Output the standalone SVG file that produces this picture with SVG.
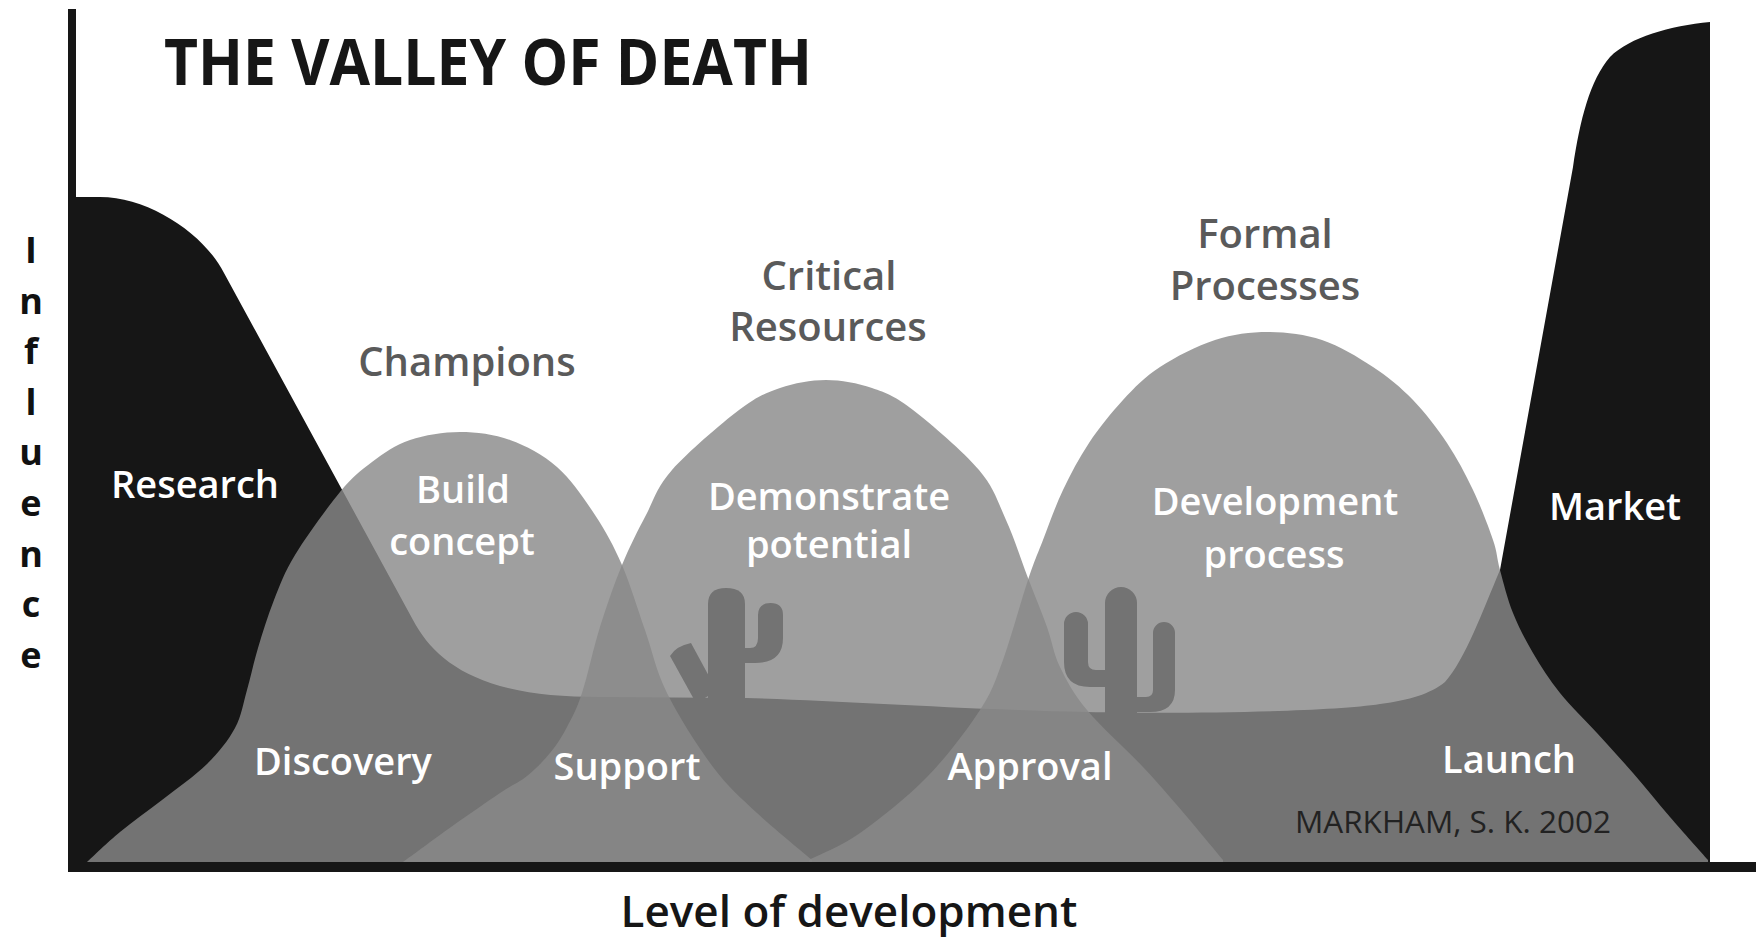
<svg xmlns="http://www.w3.org/2000/svg" width="1756" height="940" viewBox="0 0 1756 940">
<style>
text{font-family:"Open Sans","Noto Sans","Liberation Sans",sans-serif}
.blk{fill:#161616}
.hump{fill:#898989;fill-opacity:0.81}
.w{fill:#ffffff;font-size:38px;font-weight:600;text-anchor:middle}
.g{fill:#5a5a5a;font-size:40px;font-weight:600;text-anchor:middle}
.ax{fill:#111111;font-size:36px;font-weight:700;text-anchor:middle}
</style>
<rect width="1756" height="940" fill="#ffffff"/>
<g id="terrain" class="blk">
<path d="M 68,197 L 100,197 C 150,197 205,235 224,273 L 413,620 C 428,648 452,672 500,686 C 530,694 560,697 600,697 L 746,698 C 850,701 950,709 1087,712 C 1180,714 1330,712 1380,704 C 1410,700 1430,694 1445,682 C 1465,660 1483,610 1500,570 L 1573,167 C 1580,120 1590,80 1610,57 C 1630,37 1670,26 1710,22 L 1710,866 L 68,866 Z"/>
<g id="cactus-1">
<path d="M 708,700 L 708,604 Q 708,588 726,588 Q 745,588 745,604 L 745,700 Z"/>
<path d="M 740,648 L 750,648 Q 758,648 758,638 L 758,615 Q 758,603 770.5,603 Q 783,603 783,615 L 783,638 Q 783,663 755,663 L 740,663 Z"/>
<path d="M 670,656 Q 676,646 691,643 L 717,691 L 696,703 Z"/>
</g>
<g id="cactus-2">
<path d="M 1105,714 L 1105,603 A 16 16 0 0 1 1137,603 L 1137,714 Z"/>
<path d="M 1110,670 L 1096,670 Q 1088,670 1088,662 L 1088,624 A 12 12 0 0 0 1064,624 L 1064,662 Q 1064,687 1090,687 L 1110,687 Z"/>
<path d="M 1132,697 L 1146,697 Q 1153,697 1153,690 L 1153,633 A 11 11 0 0 1 1175,633 L 1175,690 Q 1175,712 1150,712 L 1132,712 Z"/>
</g>
</g>
<g id="humps">
<path id="hump-build-concept" class="hump" d="M 87,862 C 92.5,857 107.5,842.3 120,832 C 132.5,821.7 147.5,811.3 162,800 C 176.5,788.7 194.8,776 207,764 C 219.2,752 228.3,740.3 235,728 C 241.7,715.7 243.2,703.3 247,690 C 250.8,676.7 253.5,663 258,648 C 262.5,633 267.8,615.5 274,600 C 280.2,584.5 284,573 295,555 C 306,537 327.2,507.5 340,492 C 352.8,476.5 360.3,470.7 372,462 C 383.7,453.3 395.3,445 410,440 C 424.7,435 443.3,432 460,432 C 476.7,432 493.8,434.2 510,440 C 526.2,445.8 542.8,454.5 557,467 C 571.2,479.5 584.2,498.7 595,515 C 605.8,531.3 613.7,545.8 622,565 C 630.3,584.2 637.5,608.7 645,630 C 652.5,651.3 655.7,670.2 667,693 C 678.3,715.8 698,747 713,767 C 728,787 740.5,797.5 757,813 C 773.5,828.5 802.8,852.2 812,860 L 812,863 L 87,863 Z"/>
<path id="hump-demonstrate-potential" class="hump" d="M 403,862 C 411,856.2 434.8,838.5 451,827 C 467.2,815.5 487.3,801.5 500,793 C 512.7,784.5 518.7,782.7 527,776 C 535.3,769.3 543.3,761.2 550,753 C 556.7,744.8 561.7,737 567,727 C 572.3,717 576.5,709.7 582,693 C 587.5,676.3 593.3,648.3 600,627 C 606.7,605.7 614.3,583.7 622,565 C 629.7,546.3 637.7,530.8 646,515 C 654.3,499.2 656.5,487.5 672,470 C 687.5,452.5 721,423.7 739,410 C 757,396.3 765.5,393 780,388 C 794.5,383 810.7,380 826,380 C 841.3,380 857.5,383 872,388 C 886.5,393 895.2,396.3 913,410 C 930.8,423.7 963.5,451.7 979,470 C 994.5,488.3 997.8,502 1006,520 C 1014.2,538 1021.2,560.2 1028,578 C 1034.8,595.8 1041.7,612.2 1047,627 C 1052.3,641.8 1053.3,653.2 1060,667 C 1066.7,680.8 1073.2,693.3 1087,710 C 1100.8,726.7 1127.2,750.2 1143,767 C 1158.8,783.8 1168.7,795.5 1182,811 C 1195.3,826.5 1216.2,851.8 1223,860 L 1223,863 L 403,863 Z"/>
<path id="hump-development-process" class="hump" d="M 809,860 C 817.5,855.5 840.3,846.8 860,833 C 879.7,819.2 907,797.5 927,777 C 947,756.5 967.3,729.5 980,710 C 992.7,690.5 995,681.7 1003,660 C 1011,638.3 1021.3,600 1028,580 C 1034.7,560 1037.2,555 1043,540 C 1048.8,525 1055.3,506.2 1063,490 C 1070.7,473.8 1079,458 1089,443 C 1099,428 1111.2,412.7 1123,400 C 1134.8,387.3 1144.7,377 1160,367 C 1175.3,357 1197,345.8 1215,340 C 1233,334.2 1250.2,332 1268,332 C 1285.8,332 1304.5,334.2 1322,340 C 1339.5,345.8 1357.8,357 1373,367 C 1388.2,377 1400.7,387.3 1413,400 C 1425.3,412.7 1437,428 1447,443 C 1457,458 1465.3,473.8 1473,490 C 1480.7,506.2 1488.5,526.7 1493,540 C 1497.5,553.3 1496.7,557.8 1500,570 C 1503.3,582.2 1507.5,599.2 1513,613 C 1518.5,626.8 1525.2,639.7 1533,653 C 1540.8,666.3 1549.3,679.7 1560,693 C 1570.7,706.3 1584.8,719.7 1597,733 C 1609.2,746.3 1620.8,759 1633,773 C 1645.2,787 1657.5,802.5 1670,817 C 1682.5,831.5 1701.7,852.8 1708,860 L 1708,863 L 809,863 Z"/>
</g>
<g id="axes" class="blk">
<rect x="68" y="9" width="8" height="863"/>
<rect x="68" y="862" width="1688" height="10"/>
</g>
<g id="title">
<text x="164" y="85" font-size="64" font-weight="700" fill="#161616" textLength="648" lengthAdjust="spacingAndGlyphs">THE VALLEY OF DEATH</text>
</g>
<g id="axis-y-label" class="ax">
<text x="31" y="263">I</text>
<text x="31" y="313.6">n</text>
<text x="31" y="364.2">f</text>
<text x="31" y="414.8">l</text>
<text x="31" y="465.4">u</text>
<text x="31" y="516">e</text>
<text x="31" y="566.6">n</text>
<text x="31" y="617.2">c</text>
<text x="31" y="667.8">e</text>
</g>
<g id="axis-x-label">
<text x="849" y="927" font-size="44" font-weight="600" fill="#161616" text-anchor="middle">Level of development</text>
</g>
<g id="node-research"><text class="w" x="195" y="498">Research</text></g>
<g id="node-champions"><text class="g" x="467" y="376">Champions</text></g>
<g id="node-build-concept"><text class="w" x="463" y="503">Build</text><text class="w" x="462" y="555">concept</text></g>
<g id="node-critical-resources"><text class="g" x="829" y="290">Critical</text><text class="g" x="828" y="341">Resources</text></g>
<g id="node-demonstrate-potential"><text class="w" x="829" y="510">Demonstrate</text><text class="w" x="829" y="558">potential</text></g>
<g id="node-formal-processes"><text class="g" x="1265" y="248">Formal</text><text class="g" x="1265" y="300">Processes</text></g>
<g id="node-development-process"><text class="w" x="1275" y="515">Development</text><text class="w" x="1274" y="568">process</text></g>
<g id="node-market"><text class="w" x="1615" y="520">Market</text></g>
<g id="node-discovery"><text class="w" x="343" y="775">Discovery</text></g>
<g id="node-support"><text class="w" x="627" y="780">Support</text></g>
<g id="node-approval"><text class="w" x="1030" y="780">Approval</text></g>
<g id="node-launch"><text class="w" x="1509" y="773">Launch</text></g>
<g id="credit"><text x="1295" y="833" font-size="31" fill="#222222" textLength="316" lengthAdjust="spacingAndGlyphs">MARKHAM, S. K. 2002</text></g>
</svg>
